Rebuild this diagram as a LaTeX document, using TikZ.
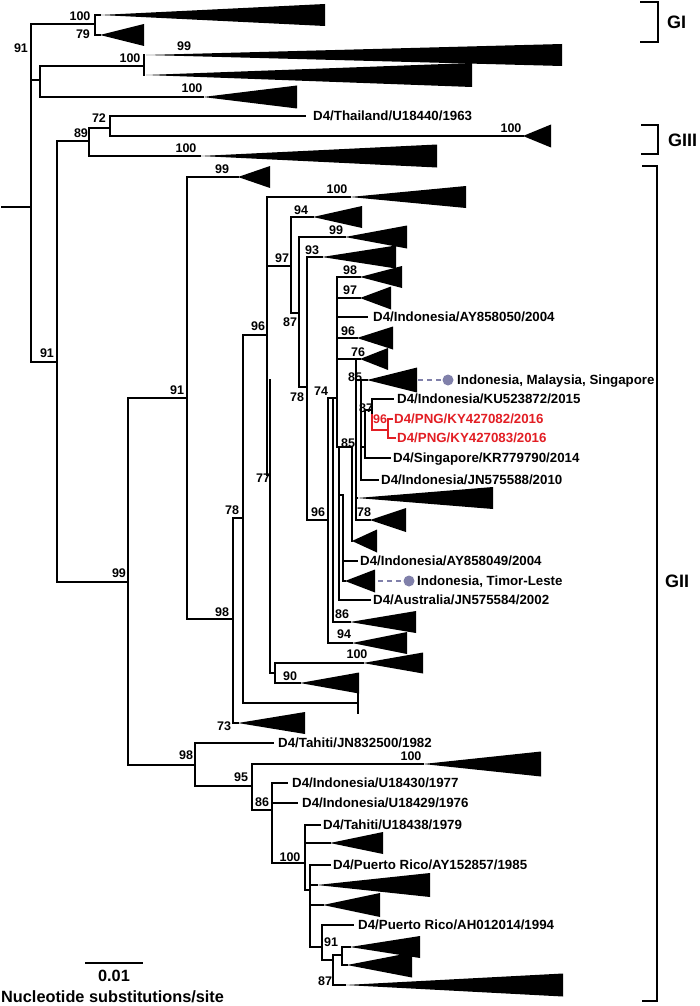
\documentclass[tikz,border=0pt]{standalone}
\usepackage{fontspec}
\setmainfont{Liberation Sans}
\usepackage{xcolor}
\usepackage{tikz}
\definecolor{pngred}{RGB}{226,30,36}
\definecolor{geo}{RGB}{128,128,170}
\newcommand{\cladetri}[4]{\fill (#1,#2) -- (#3,{#2-#4}) -- (#3,{#2+#4}) -- cycle;}

\begin{document}
\begin{tikzpicture}[x=1pt,y=-1pt,
    br/.style={line width=2.4pt,line cap=rect},
    rbr/.style={br,draw=pngred},
    boot/.style={font=\fontsize{12.5}{14}\selectfont\bfseries,inner sep=0pt,text height=9pt,text depth=0pt},
    leaf/.style={font=\fontsize{13.3}{15}\selectfont\bfseries,inner sep=0pt,anchor=west,text height=9.5pt,text depth=0pt},
    grp/.style={font=\fontsize{18}{20}\selectfont\bfseries,inner sep=0pt,anchor=west,text height=13pt,text depth=0pt},
    brk/.style={line width=2.6pt},
    link/.style={draw=geo,line width=1.6pt,dash pattern=on 5pt off 4pt}]
\useasboundingbox (0,0) rectangle (700,1006);

\draw[br] (2,207) -- (31,207);
\draw[br] (31,24) -- (31,362);
\draw[br] (31,24) -- (95,24) (95,15) -- (95,35) (95,15) -- (100,15) (95,35) -- (100,35);
\draw[br] (31,80) -- (40,80) (40,66) -- (40,97) (40,66) -- (144,66) (144,55) -- (144,75) (40,97) -- (203,97);
\draw[br] (31,362) -- (57,362) (57,141) -- (57,582) (57,141) -- (89,141) (89,128) -- (89,156);
\draw[br] (89,128) -- (110,128) (110,116) -- (110,136) (110,116) -- (305,116) (110,136) -- (523,136) (89,156) -- (200,156);

\draw[br] (57,582) -- (128,582) (128,398) -- (128,765) (128,398) -- (187,398) (187,177) -- (187,619) (187,177) -- (238,177);
\draw[br] (187,619) -- (233,619) (233,518) -- (233,723) (233,518) -- (243,518) (243,335) -- (243,703) (243,335) -- (267,335);
\draw[br] (267,197) -- (267,475) -- (270,475) (270,380) -- (270,673) (267,197) -- (350,197);
\draw[br] (267,266) -- (291,266) (291,217) -- (291,313) (291,217) -- (313,217);
\draw[br] (291,313) -- (299,313) (299,237) -- (299,387) (299,237) -- (345,237);
\draw[br] (299,387) -- (307,387) (307,257) -- (307,520) (307,257) -- (322,257);
\draw[br] (307,520) -- (328,520) (328,398) -- (328,643) (328,398) -- (337,398) (333,398) -- (333,622);
\draw[br] (337,277) -- (337,447) (337,277) -- (360,277) (337,298) -- (360,298) (337,317) -- (367,317) (337,338) -- (357,338);
\draw[br] (337,359) -- (360,359) (356,359) -- (356,520) (356,380) -- (367,380);
\draw[br] (361,380) -- (361,480) (361,447) -- (365,447) (365,410) -- (365,458) (365,410) -- (372,410) (372,399) -- (372,415);
\draw[rbr] (372,415) -- (372,430) -- (388,430) (388,419) -- (388,438) (388,419) -- (392,419) (388,438) -- (395,438);
\draw[br] (372,399) -- (393,399) (365,458) -- (390,458) (361,480) -- (378,480);
\draw[br] (356,498) -- (357,498) (356,520) -- (370,520);
\draw[br] (337,447) -- (352,447) (339,447) -- (339,600) (352,447) -- (352,541) (339,495) -- (343,495) (343,495) -- (343,581);
\draw[br] (343,561) -- (357,561) (343,581) -- (345,581) (339,600) -- (370,600);
\draw[br] (333,622) -- (350,622) (328,643) -- (352,643);
\draw[br] (270,673) -- (275,673) (275,663) -- (275,683) (275,663) -- (363,663) (275,683) -- (300,683);
\draw[br] (243,703) -- (358,703) (358,693) -- (358,713) (233,723) -- (238,723);

\draw[br] (128,765) -- (195,765) (195,743) -- (195,786) (195,743) -- (273,743);
\draw[br] (195,786) -- (252,786) (252,764) -- (252,810) (252,764) -- (423,764);
\draw[br] (252,810) -- (272,810) (272,783) -- (272,863) (272,783) -- (287,783) (272,803) -- (297,803);
\draw[br] (272,863) -- (305,863) (305,825) -- (305,890) (305,825) -- (320,825) (305,843) -- (330,843);
\draw[br] (305,890) -- (310,890) (310,865) -- (310,947) (310,865) -- (330,865) (310,885) -- (317,885) (310,905) -- (323,905);
\draw[br] (310,947) -- (322,947) (322,925) -- (322,960) (322,925) -- (353,925) (322,960) -- (333,960);
\draw[br] (333,955) -- (333,985) (333,955) -- (342,955) (342,947) -- (342,965) (342,947) -- (350,947) (342,965) -- (347,965) (333,985) -- (345,985);

\foreach \a/\y/\r/\h in {100/15/325/11, 100/35/144/11, 146/55/562/11, 146/75/472/12, 203/97/297/11.5,
    523/136/551/11.5, 200/156/437/11.5, 238/177/270/11, 350/197/466/11, 313/217/362/11, 345/237/407/11.5,
    322/257/396/11.5, 360/277/402/11, 360/298/391/11.5, 357/338/393/11.5, 360/359/388/11, 367/380/417/12.5,
    357/498/493/11, 370/520/406/12, 352/541/377/11.5, 345/581/375/11.5, 350/622/416/11, 352/643/407/11,
    363/663/423/10.5, 300/683/359/10.5, 238/723/305/11, 423/764/541/12.5, 330/843/383/11, 317/885/430/12,
    323/905/380/12, 350/947/420/11, 347/965/412/12.5, 345/985/563/11.5}
  {\cladetri{\a}{\y}{\r}{\h}}

\draw[link] (418,380) -- (443,380);
\fill[geo] (448,380) circle (5.5);
\draw[link] (378,581) -- (403,581);
\fill[geo] (409,581) circle (5.5);

\foreach \x/\y/\t [count=\i] in {80/16/100, 83/34/79, 21/48/91, 184/46/99, 130/58/100, 192/88/100, 99/118/72,
    81/133/89, 186/148/100, 511/128/100, 47/353/91, 177/390/91, 119/573/99, 186/755/98, 222/169/99,
    337/189/100, 301/210/94, 282/258/97, 336/230/99, 312/250/93, 350/270/98, 350/290/97, 290/322/87,
    258/326/96, 348/331/96, 358/352/76, 355/377/85, 297/397/78, 321/391/74, 366/408/87, 348/443/85,
    263/478/77, 232/510/78, 318/512/96, 364/512/78, 342/614/86, 344/634/94, 357/654/100, 290/676/90,
    222/612/98, 224/726/73, 241/777/95, 411/756/100, 262/802/86, 290/857/100, 331/942/91, 325/981/87}
  {\node[boot] (bs\i) at (\x,\y) {\t};}
\node[boot,text=pngred] (bsred) at (380,419) {96};

\node[leaf] (thai) at (313,116) {D4/Thailand/U18440/1963};
\node[leaf] (ind50) at (373,317) {D4/Indonesia/AY858050/2004};
\node[leaf] (ims) at (457,380) {Indonesia, Malaysia, Singapore};
\node[leaf] (ku) at (397,399) {D4/Indonesia/KU523872/2015};
\node[leaf,text=pngred] (png82) at (394,419) {D4/PNG/KY427082/2016};
\node[leaf,text=pngred] (png83) at (397,438) {D4/PNG/KY427083/2016};
\node[leaf] (sing) at (393,458) {D4/Singapore/KR779790/2014};
\node[leaf] (ind88) at (381,480) {D4/Indonesia/JN575588/2010};
\node[leaf] (ind49) at (360,561) {D4/Indonesia/AY858049/2004};
\node[leaf] (itl) at (417,581) {Indonesia, Timor-Leste};
\node[leaf] (aus) at (373,600) {D4/Australia/JN575584/2002};
\node[leaf] (tah82) at (278,743) {D4/Tahiti/JN832500/1982};
\node[leaf] (ind77) at (292,783) {D4/Indonesia/U18430/1977};
\node[leaf] (ind76) at (302,803) {D4/Indonesia/U18429/1976};
\node[leaf] (tah79) at (323,825) {D4/Tahiti/U18438/1979};
\node[leaf] (pr85) at (333,865) {D4/Puerto Rico/AY152857/1985};
\node[leaf] (pr94) at (358,925) {D4/Puerto Rico/AH012014/1994};

\draw[brk] (640,2) -- (658,2) -- (658,42) -- (640,42);
\draw[brk] (641,125) -- (658,125) -- (658,154) -- (641,154);
\draw[brk] (642,166) -- (657,166) -- (657,1001) -- (642,1001);
\node[grp] (gI) at (667,22) {GI};
\node[grp] (gIII) at (668,140) {GIII};
\node[grp] (gII) at (665,581) {GII};

\draw[line width=2.4pt] (85,963) -- (143,963);
\node[font=\fontsize{16.3}{18}\selectfont\bfseries,inner sep=0pt] (sc) at (114,976) {0.01};
\node[font=\fontsize{16.3}{18}\selectfont\bfseries,inner sep=0pt,anchor=west] (unit) at (1,997) {Nucleotide substitutions/site};
\end{tikzpicture}
\end{document}
